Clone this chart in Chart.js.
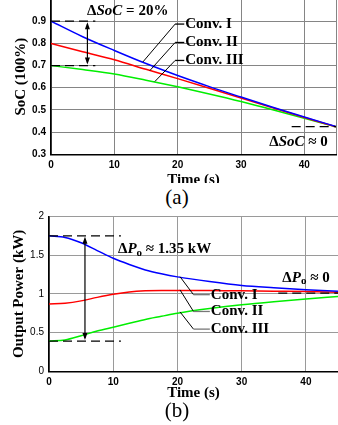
<!DOCTYPE html>
<html><head><meta charset="utf-8">
<script src="https://cdn.jsdelivr.net/npm/chart.js@4.4.0/dist/chart.umd.min.js"></script>
<style>
html,body{margin:0;padding:0;background:#fff;width:338px;height:425px;overflow:hidden;position:relative}
.wrap{position:absolute;left:0;width:338px;overflow:hidden}
.inner{position:absolute;left:0;width:338px}
.cap{position:absolute;font-family:"Liberation Serif",serif;font-size:21px;line-height:1;transform:translate(-50%,-50%);color:#000;white-space:nowrap}
</style></head>
<body>
<div class="wrap" style="top:0;height:183px"><div class="inner" style="top:-1px;height:190px"><canvas id="ca"></canvas></div></div>
<div class="cap" style="left:177px;top:197px">(a)</div>
<div class="wrap" style="top:206px;height:198px"><div class="inner" style="top:0;height:196px"><canvas id="cb"></canvas></div></div>
<div class="cap" style="left:177px;top:410px">(b)</div>
<script>
// ---------- data: (a) SoC ----------
const socTime = [0, 5, 10, 15, 20, 25, 30, 35, 40, 45];
const socConv1 = [0.900, 0.830, 0.768, 0.709, 0.655, 0.605, 0.558, 0.512, 0.468, 0.425];
const socConv2 = [0.800, 0.762, 0.726, 0.683, 0.641, 0.598, 0.554, 0.510, 0.466, 0.424];
const socConv3 = [0.700, 0.682, 0.662, 0.634, 0.604, 0.572, 0.538, 0.501, 0.462, 0.424];
const socTicks = [0.3, 0.4, 0.5, 0.6, 0.7, 0.8, 0.9];
const socTickLabels = ['0.3', '0.4', '0.5', '0.6', '0.7', '0.8', '0.9'];

// ---------- data: (b) output power ----------
const powTime = [0, 2.5, 5, 7.5, 10, 12.5, 15, 17.5, 20, 25, 30, 35, 40, 45];
const powConv1 = [1.75, 1.73, 1.66, 1.56, 1.46, 1.38, 1.31, 1.26, 1.22, 1.16, 1.11, 1.08, 1.055, 1.035];
const powConv2 = [0.87, 0.88, 0.91, 0.955, 0.995, 1.025, 1.04, 1.045, 1.045, 1.045, 1.04, 1.035, 1.03, 1.02];
const powConv3 = [0.39, 0.405, 0.46, 0.52, 0.57, 0.62, 0.67, 0.71, 0.75, 0.81, 0.86, 0.90, 0.935, 0.965];
const powTicks = [0, 0.5, 1, 1.5, 2];
const powTickLabels = ['0', '0.5', '1', '1.5', '2'];

const timeTicks = [0, 10, 20, 30, 40, 45];
const timeTickLabels = ['0', '10', '20', '30', '40', ''];
const seriesNames = ['Conv. I', 'Conv. II', 'Conv. III'];

// ---------- annotations (data coordinates) ----------
const socDashes = [[0, 7, 0.9], [0, 7, 0.7], [38, 45, 0.425]];
const socArrow = [5.75, 0.9, 0.7];
const socLeaders = [[14.5, 0.716, 19.6, 0.887, 21.2], [15.6, 0.677, 19.6, 0.804, 21.2], [16.4, 0.628, 19.6, 0.723, 21.2]];
const socTexts = [[5.7, 0.946, 'left', [['Δ'], ['SoC', 'i'], [' = 20%']]], [43.7, 0.357, 'right', [['Δ'], ['SoC', 'i'], [' ≈ 0']]]];

const powDashes = [[0, 11.2, 1.75], [0, 11.2, 0.39], [35.7, 45, 1.01]];
const powArrow = [5.6, 1.75, 0.39];
const powLeaders = [[20.4, 1.222, 22.5, 0.99, 25.2], [20.4, 1.052, 22.5, 0.773, 25.2], [20.4, 0.768, 22.5, 0.545, 25.2]];
const powTexts = [[10.75, 1.58, 'left', [['Δ'], ['P', 'i'], ['o', 's'], [' ≈ 1.35 kW']]], [43.7, 1.21, 'right', [['Δ'], ['P', 'i'], ['o', 's'], [' ≈ 0']]]];

const SERIF = '"Liberation Serif", "Times New Roman", serif';
const SANS = '"Liberation Sans", Arial, sans-serif';

function richText(ctx, x, y, align, segs) {
  const fontFor = s => s[1] === 'i' ? 'italic bold 15px ' + SERIF : (s[1] === 's' ? 'bold 11px ' + SERIF : 'bold 15px ' + SERIF);
  let total = 0;
  segs.forEach(s => { ctx.font = fontFor(s); total += ctx.measureText(s[0]).width; });
  let cx = align === 'right' ? x - total : x;
  ctx.textBaseline = 'middle';
  ctx.textAlign = 'left';
  segs.forEach(s => {
    ctx.font = fontFor(s);
    ctx.fillText(s[0], cx, s[1] === 's' ? y + 4 : y);
    cx += ctx.measureText(s[0]).width;
  });
}

const annoPlugin = {
  id: 'anno',
  afterDatasetsDraw(chart, args, opts) {
    const ctx = chart.ctx, xs = chart.scales.x, ys = chart.scales.y;
    const X = v => xs.getPixelForValue(v), Y = v => ys.getPixelForValue(v);
    ctx.save();
    ctx.strokeStyle = '#000'; ctx.fillStyle = '#000';
    // dashed lines
    ctx.lineWidth = 1.3; ctx.setLineDash([9, 5]);
    opts.dashes.forEach(d => { ctx.beginPath(); ctx.moveTo(X(d[0]), Y(d[2])); ctx.lineTo(X(d[1]), Y(d[2])); ctx.stroke(); });
    ctx.setLineDash([]);
    // double arrow
    const ax = X(opts.arrow[0]), a1 = Y(opts.arrow[1]), a2 = Y(opts.arrow[2]);
    ctx.lineWidth = 1.2;
    ctx.beginPath(); ctx.moveTo(ax, a1 + 3); ctx.lineTo(ax, a2 - 3); ctx.stroke();
    ctx.beginPath(); ctx.moveTo(ax, a1 + 1); ctx.lineTo(ax - 2.5, a1 + 8); ctx.lineTo(ax + 2.5, a1 + 8); ctx.closePath(); ctx.fill();
    ctx.beginPath(); ctx.moveTo(ax, a2 - 1); ctx.lineTo(ax - 2.5, a2 - 8); ctx.lineTo(ax + 2.5, a2 - 8); ctx.closePath(); ctx.fill();
    // leaders and labels
    opts.leaders.forEach((l, i) => {
      ctx.lineWidth = 1;
      ctx.strokeStyle = '#000';
      ctx.beginPath(); ctx.moveTo(X(l[0]), Y(l[1])); ctx.lineTo(X(l[2]), Y(l[3])); ctx.stroke();
      ctx.strokeStyle = opts.elbowColor;
      ctx.lineWidth = 1.3;
      ctx.beginPath(); ctx.moveTo(X(l[2]), Y(l[3])); ctx.lineTo(X(l[4]) - 1, Y(l[3])); ctx.stroke();
      ctx.font = 'bold 15px ' + SERIF; ctx.textAlign = 'left'; ctx.textBaseline = 'middle';
      ctx.fillText(seriesNames[i], X(l[4]), Y(l[3]));
    });
    opts.texts.forEach(t => richText(ctx, X(t[0]), Y(t[1]), t[2], t[3]));
    ctx.restore();
  }
};

function makeChart(id, time, series, yMin, yMax, yTicks, yLabels, yTitle, o) {
  const colors = ['#0000ff', '#ff0000', '#00ee00'];
  return new Chart(document.getElementById(id), {
    type: 'line',
    data: {
      datasets: series.map((s, i) => ({
        label: seriesNames[i],
        data: time.map((t, k) => ({x: t, y: s[k]})),
        borderColor: colors[i], borderWidth: 1.5, pointRadius: 0, fill: false,
        cubicInterpolationMode: 'monotone'
      }))
    },
    options: {
      responsive: true, maintainAspectRatio: false, animation: false,
      layout: {padding: o.padding},
      plugins: {legend: {display: false}, tooltip: {enabled: false}, anno: o.anno},
      scales: {
        x: {
          type: 'linear', min: 0, max: 45,
          afterBuildTicks: s => { s.ticks = timeTicks.map(v => ({value: v})); },
          afterFit: s => { s.height = o.xHeight; s.paddingLeft = 0; s.paddingRight = 0; },
          ticks: {autoSkip: false, maxRotation: 0, padding: o.xPad, color: '#000',
            font: {family: SANS, size: 10, weight: 'bold'},
            callback: (v, i) => timeTickLabels[i]},
          grid: {color: o.gridColor, lineWidth: 1, drawTicks: false},
          border: {color: '#000', width: 1.6},
          title: {display: true, text: 'Time (s)', color: '#000', padding: 0,
            font: {family: SERIF, size: 15, weight: 'bold'}}
        },
        y: {
          min: yMin, max: yMax,
          afterBuildTicks: s => { s.ticks = yTicks.map(v => ({value: v})); },
          afterFit: s => { s.width = o.yWidth; s.paddingTop = 0; s.paddingBottom = 0; },
          ticks: {autoSkip: false, padding: 5, color: '#000',
            font: {family: SANS, size: 10, weight: o.yTickWeight},
            callback: (v, i) => yLabels[i]},
          grid: {color: o.gridColor, lineWidth: 1, drawTicks: false},
          border: {color: '#000', width: 1.6},
          title: {display: true, text: yTitle, color: '#000', padding: {top: o.yTitlePad, bottom: 0},
            font: {family: SERIF, size: 15, weight: 'bold'}}
        }
      }
    },
    plugins: [annoPlugin]
  });
}

makeChart('ca', socTime, [socConv1, socConv2, socConv3], 0.3, 1.0, socTicks, socTickLabels, 'SoC (100%)', {
  padding: {top: 0, right: 2, left: 0, bottom: 0}, xHeight: 34.7, xPad: 5, yWidth: 51, yTitlePad: 12,
  gridColor: '#858585', yTickWeight: 'bold',
  anno: {dashes: socDashes, arrow: socArrow, leaders: socLeaders, texts: socTexts, elbowColor: '#000'}
});
makeChart('cb', powTime, [powConv1, powConv2, powConv3], 0, 2, powTicks, powTickLabels, 'Output Power (kW)', {
  padding: {top: 10.5, right: 0, left: 0, bottom: 0}, xHeight: 30.7, xPad: 5, yWidth: 49, yTitlePad: 10,
  gridColor: '#9a9a9a', yTickWeight: 'normal',
  anno: {dashes: powDashes, arrow: powArrow, leaders: powLeaders, texts: powTexts, elbowColor: '#777'}
});
</script>
</body></html>
